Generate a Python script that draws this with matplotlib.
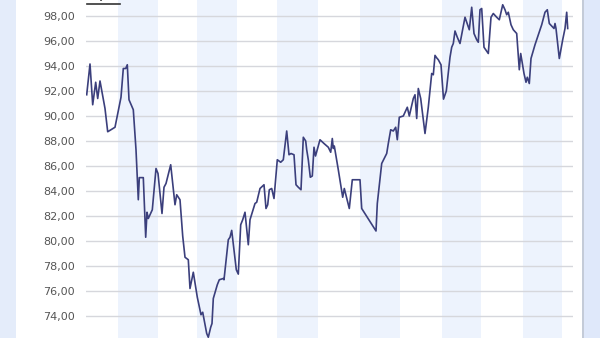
import matplotlib
matplotlib.use("Agg")
import matplotlib.pyplot as plt
from matplotlib.patches import Rectangle

# Day index (arbitrary units along the time axis) and index values
days = [0.7, 4.0, 6.7, 9.7, 11.7, 14.0, 16.3, 19.0, 21.7, 29.0,
        35.0, 37.3, 39.7, 41.3, 43.0, 47.3, 50.0, 51.3, 52.3, 53.3,
        57.3, 59.7, 61.0, 62.3, 66.3, 70.0, 72.0, 76.0, 78.0, 80.0,
        84.7, 89.0, 90.7, 94.0, 96.7, 99.0, 102.3, 104.0, 107.3, 111.3,
        115.0, 116.7, 120.7, 122.3, 124.7, 126.0, 127.3, 131.3, 133.3, 137.3,
        138.0, 142.3, 144.0, 145.7, 150.3, 152.3, 154.7, 156.7, 159.0, 162.3,
        164.0, 169.0, 170.7, 174.0, 178.0, 180.0, 181.7, 183.3, 185.7, 188.0,
        191.3, 194.7, 197.3, 200.7, 203.0, 205.0, 208.0, 210.0, 212.3, 215.0,
        217.3, 219.7, 220.7, 222.3, 224.3, 226.3, 228.0, 229.5, 234.0, 238.0,
        242.3, 244.7, 246.3, 247.3, 248.3, 252.3, 256.7, 258.3, 263.3, 266.3,
        274.0, 275.7, 290.0, 291.3, 295.7, 300.7, 302.3, 304.7, 307.3, 309.7,
        311.3, 313.3, 317.3, 321.3, 323.3, 327.3, 329.0, 330.7, 332.3, 334.7,
        339.0, 342.3, 345.7, 347.3, 349.0, 350.7, 352.3, 355.0, 357.5, 360.3,
        364.0, 365.7, 367.3, 369.0, 371.3, 374.0, 379.0, 380.7, 383.3, 385.7,
        388.0, 390.7, 392.3, 394.0, 395.7, 398.0, 402.3, 405.0, 407.3, 410.7,
        413.3, 416.7, 419.0, 420.7, 422.3, 425.0, 427.3, 430.7, 433.3, 434.7,
        438.0, 440.0, 441.3, 443.3, 445.0, 449.0, 452.3, 455.7, 459.0, 461.3,
        463.3, 468.0, 469.0, 470.0, 473.3, 476.7, 479.0, 480.7, 481.7]
values = [91.7, 94.16, 90.9, 92.7, 91.4, 92.8, 91.8, 90.6, 88.74, 89.1,
          91.5, 93.8, 93.8, 94.1, 91.3, 90.5, 87.3, 85.0, 83.3, 85.07,
          85.07, 80.3, 82.3, 81.8, 82.5, 85.8, 85.4, 82.2, 84.3, 84.6,
          86.1, 82.9, 83.7, 83.3, 80.4, 78.7, 78.5, 76.2, 77.5, 75.5,
          74.1, 74.3, 72.6, 72.3, 73.1, 73.4, 75.4, 76.5, 76.9, 77.0,
          76.9, 80.1, 80.3, 80.85, 77.7, 77.35, 81.3, 81.7, 82.3, 79.7,
          81.7, 83.0, 83.1, 84.2, 84.5, 82.6, 82.9, 84.1, 84.2, 83.4,
          86.5, 86.3, 86.5, 88.8, 86.9, 87.0, 86.9, 84.5, 84.3, 84.1,
          88.3, 88.0, 87.3, 86.5, 85.1, 85.2, 87.5, 86.8, 88.1, 87.8,
          87.5, 87.1, 88.2, 87.4, 87.6, 85.7, 83.5, 84.2, 82.6, 84.9,
          84.9, 82.6, 80.8, 83.0, 86.2, 87.0, 87.8, 88.9, 88.8, 89.1,
          88.1, 89.9, 90.0, 90.7, 90.0, 91.4, 91.7, 89.8, 92.2, 91.4,
          88.6, 90.7, 93.4, 93.3, 94.85, 94.65, 94.5, 94.1, 91.35, 92.0,
          94.7, 95.5, 95.8, 96.8, 96.3, 95.8, 97.9, 97.5, 96.9, 98.7,
          96.6, 96.1, 95.9, 98.5, 98.6, 95.5, 95.0, 97.9, 98.2, 97.9,
          97.7, 98.9, 98.5, 98.1, 98.3, 97.3, 96.9, 96.6, 93.7, 95.0,
          93.4, 92.7, 93.1, 92.6, 94.6, 95.7, 96.5, 97.3, 98.3, 98.5,
          97.4, 97.0, 97.4, 97.0, 94.6, 96.1, 97.0, 98.3, 97.0]

# Shaded periods (start, end) in day units
shaded_periods = [(32, 72), (111, 151), (191, 232), (274, 314), (356, 395), (437, 476)]
y_ticks = [74, 76, 78, 80, 82, 84, 86, 88, 90, 92, 94, 96, 98]
y_labels = ["74,00", "76,00", "78,00", "80,00", "82,00", "84,00", "86,00",
            "88,00", "90,00", "92,00", "94,00", "96,00", "98,00"]
unit_caption = "%,%"

W, H = 600, 338
fig = plt.figure(figsize=(W / 100, H / 100), dpi=100, facecolor="white")

# outer light-blue frame strips
fig.patches.append(Rectangle((0, 0), 16 / W, 1, transform=fig.transFigure,
                             facecolor="#e4ecfa", edgecolor="none", zorder=0))
fig.patches.append(Rectangle((584 / W, 0), 16 / W, 1, transform=fig.transFigure,
                             facecolor="#dfe8fa", edgecolor="none", zorder=0))
fig.patches.append(Rectangle((582 / W, 0), 2 / W, 1, transform=fig.transFigure,
                             facecolor="#c4cbd8", edgecolor="none", zorder=0))

ax = fig.add_axes([86 / W, 0, 487 / W, 1])
ax.set_facecolor("none")
ax.set_xlim(0, 487)
ax.set_ylim(72.24, 99.28)

for s, e in shaded_periods:
    ax.axvspan(s, e, facecolor="#edf3fd", edgecolor="none", zorder=0)

ax.set_yticks(y_ticks)
ax.set_yticklabels(y_labels)
ax.grid(axis="y", color="#d6d7dc", linewidth=1.0, zorder=1)
ax.tick_params(axis="y", length=0, pad=8, labelsize=8, labelcolor="#555555")
ax.tick_params(axis="x", bottom=False, labelbottom=False)
for sp in ax.spines.values():
    sp.set_visible(False)

ax.plot(days, values, color="#3b3f7c", linewidth=1.2, zorder=3)

# axis-unit caption, cut off at the top edge as in the reference
fig.text(103 / W, 1 - 2 / H, unit_caption, ha="center", va="bottom", fontsize=9,
         color="#333333", fontweight="bold")
fig.lines.append(plt.Line2D([87 / W, 120 / W], [1 - 4 / H, 1 - 4 / H],
                            transform=fig.transFigure, color="#333333", linewidth=1.2))

fig.savefig("out.png", dpi=100, facecolor="white")
